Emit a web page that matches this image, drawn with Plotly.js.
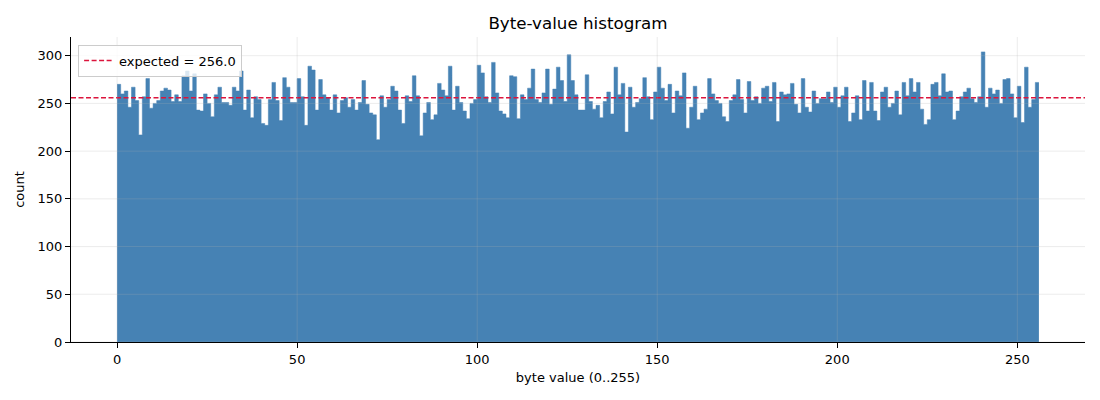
<!DOCTYPE html>
<html>
<head>
<meta charset="utf-8">
<script src="https://cdn.plot.ly/plotly-3.0.1.min.js"></script>
<style>
  html, body { margin: 0; padding: 0; background: #fff; }
  #myDiv { width: 1100px; height: 400px; }
</style>
</head>
<body>
<div id="myDiv"></div>
<script>
// counts per byte value 0..255
var counts = [
  270, 260, 263, 246, 267, 253, 217, 257, 276, 245,
  250, 253, 263, 266, 264, 252, 259, 252, 279, 284,
  263, 281, 243, 242, 260, 250, 236, 259, 267, 251,
  251, 248, 267, 263, 284, 243, 264, 235, 257, 254,
  229, 227, 254, 272, 253, 232, 277, 267, 251, 251,
  276, 257, 227, 289, 285, 243, 275, 259, 256, 243,
  259, 240, 253, 256, 246, 254, 243, 251, 274, 249,
  240, 238, 212, 258, 246, 254, 268, 263, 243, 229,
  258, 252, 279, 258, 216, 240, 251, 233, 238, 271,
  264, 258, 289, 243, 268, 251, 242, 234, 250, 254,
  290, 282, 257, 251, 293, 261, 242, 239, 235, 279,
  278, 234, 259, 254, 266, 286, 254, 251, 261, 286,
  249, 265, 288, 274, 252, 301, 274, 259, 243, 243,
  280, 252, 244, 248, 235, 252, 262, 239, 288, 259,
  271, 220, 267, 246, 251, 255, 277, 257, 233, 262,
  288, 266, 253, 270, 240, 263, 258, 282, 224, 246,
  268, 233, 240, 244, 276, 260, 253, 250, 236, 231,
  253, 259, 275, 254, 240, 273, 253, 257, 250, 266,
  268, 252, 272, 231, 262, 259, 260, 271, 249, 240,
  276, 246, 241, 263, 250, 255, 255, 262, 251, 267,
  246, 258, 267, 231, 240, 258, 233, 274, 242, 272,
  242, 232, 262, 267, 246, 250, 263, 238, 272, 258,
  276, 262, 272, 244, 228, 233, 270, 272, 258, 281,
  262, 263, 233, 242, 257, 262, 266, 255, 251, 257,
  304, 246, 266, 260, 264, 250, 275, 276, 260, 235,
  268, 230, 288, 246, 254, 272
];
var expected = 256.0;
var xTicks = [0, 50, 100, 150, 200, 250];
var yTicks = [0, 50, 100, 150, 200, 250, 300];

var xRange = [-12.8, 268.8];
var yRange = [0, 319.6];

// bins are [i, i+1); draw them as one filled step outline so
// neighbouring bins touch without pixel seams
var edges = [];
var stepY = [];
for (var i = 0; i < counts.length; i++) {
  edges.push(i);
  stepY.push(counts[i]);
}
edges.push(counts.length);
stepY.push(counts[counts.length - 1]);

var bars = {
  type: 'scatter',
  mode: 'lines',
  x: edges,
  y: stepY,
  line: { shape: 'hv', color: '#4682b4', width: 0.5 },
  fill: 'tozeroy',
  fillcolor: '#4682b4',
  showlegend: false,
  hoverinfo: 'skip'
};

var expLine = {
  type: 'scatter',
  mode: 'lines',
  x: xRange,
  y: [expected, expected],
  name: 'expected = ' + expected.toFixed(1),
  line: { color: '#dc143c', width: 1.5, dash: '5px,2.5px' }
};

// grid drawn over the bars, like the original
var gridShapes = [];
xTicks.forEach(function (t) {
  gridShapes.push({
    type: 'line', layer: 'above', xref: 'x', yref: 'paper',
    x0: t, x1: t, y0: 0, y1: 1,
    line: { color: 'rgba(176,176,176,0.3)', width: 0.8 }
  });
});
yTicks.forEach(function (t) {
  gridShapes.push({
    type: 'line', layer: 'above', xref: 'paper', yref: 'y',
    x0: 0, x1: 1, y0: t, y1: t,
    line: { color: 'rgba(176,176,176,0.3)', width: 0.8 }
  });
});

var layout = {
  width: 1100,
  height: 400,
  margin: { l: 71, r: 15, t: 37, b: 58 },
  paper_bgcolor: '#fff',
  plot_bgcolor: '#fff',
  font: { family: 'DejaVu Sans', size: 13, color: '#000' },
  title: {
    text: 'Byte-value histogram',
    font: { size: 16.7, color: '#000' },
    x: 0.5, xref: 'paper',
    y: 1 - 23 / 400, yref: 'container', yanchor: 'middle'
  },
  showlegend: true,
  legend: {
    x: 0.007, y: 0.975, xanchor: 'left', yanchor: 'top',
    bgcolor: 'rgba(255,255,255,0.8)',
    bordercolor: '#cccccc', borderwidth: 1,
    font: { size: 13 }
  },
  xaxis: {
    range: xRange,
    tickmode: 'array', tickvals: xTicks,
    ticks: 'outside', ticklen: 5, tickwidth: 1, tickcolor: '#000',
    showgrid: false, zeroline: false,
    showline: true, linecolor: '#000', linewidth: 1, mirror: false,
    title: { text: 'byte value (0..255)', standoff: 7, font: { size: 13 } }
  },
  yaxis: {
    range: yRange,
    tickmode: 'array', tickvals: yTicks,
    ticks: 'outside', ticklen: 5, tickwidth: 1, tickcolor: '#000',
    showgrid: false, zeroline: false,
    showline: true, linecolor: '#000', linewidth: 1, mirror: false,
    title: { text: 'count', standoff: 10, font: { size: 13 } }
  },
  shapes: gridShapes
};

Plotly.newPlot('myDiv', [bars, expLine], layout, { displayModeBar: false });
</script>
</body>
</html>
